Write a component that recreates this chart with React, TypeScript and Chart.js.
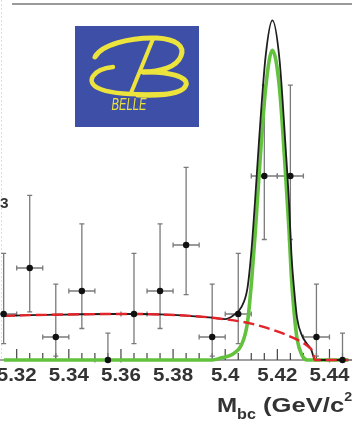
import React, { useEffect, useRef } from "react";
import { Chart, registerables } from "chart.js";

Chart.register(...registerables);

// Binned M_bc candidates (GeV/c^2) with asymmetric Poisson errors
const binCenters = [5.315, 5.325, 5.335, 5.345, 5.355, 5.365, 5.375, 5.385, 5.395, 5.405, 5.415, 5.425, 5.435, 5.445];
const counts = [2, 4, 1, 3, 0, 2, 3, 5, 1, 2, 8, 8, 1, 0];
const errHigh = [2.64, 3.16, 2.3, 2.92, 1.17, 2.64, 2.92, 3.38, 2.3, 2.64, 3.95, 3.95, 2.3, 1.17];
const errLow = [1.29, 1.91, 0.83, 1.63, 0, 1.29, 1.63, 2.16, 0.83, 1.29, 2.76, 2.76, 0.83, 0];
const binHalfWidth = 0.005;

// Background (ARGUS-like) curve
const bgMass = [5.3151, 5.325, 5.335, 5.345, 5.355, 5.365, 5.375, 5.385, 5.39, 5.395, 5.4, 5.405, 5.41, 5.415, 5.42, 5.425, 5.43, 5.432, 5.4335, 5.4345, 5.4472];
const bgVal = [1.92, 1.95, 1.97, 1.99, 2.0, 2.0, 1.98, 1.93, 1.89, 1.84, 1.77, 1.69, 1.58, 1.43, 1.24, 1.02, 0.74, 0.57, 0.38, 0, 0];

// Signal curve
const sigMass = [5.3151, 5.39, 5.395, 5.3987, 5.4015, 5.4032, 5.4062, 5.4085, 5.4101, 5.4115, 5.4129, 5.4155, 5.4181, 5.4208, 5.4232, 5.4245, 5.4254, 5.4265, 5.4276, 5.4295, 5.4314, 5.4472];
const sigVal = [0, 0, 0, 0.1, 0.18, 0.28, 0.65, 1.6, 3.4, 5.5, 7.9, 11.8, 13.47, 11.85, 8.0, 5.6, 3.6, 2.0, 0.9, 0.2, 0, 0];

// Total fit curve
const totMass = [5.3151, 5.325, 5.335, 5.345, 5.355, 5.365, 5.375, 5.385, 5.39, 5.395, 5.4, 5.4032, 5.4062, 5.4085, 5.4101, 5.4115, 5.4129, 5.4155, 5.4181, 5.4208, 5.4232, 5.4245, 5.4254, 5.4265, 5.4276, 5.4295, 5.4314, 5.433, 5.4345, 5.4472];
const totVal = [1.92, 1.95, 1.97, 1.99, 2.0, 2.0, 1.98, 1.93, 1.89, 1.84, 1.78, 1.95, 2.3, 3.1, 4.8, 7.0, 9.4, 13.2, 14.77, 13.1, 9.2, 6.8, 4.6, 3.0, 1.8, 1.05, 0.7, 0.45, 0, 0];

// Axis
const xMin = 5.31513;
const xMax = 5.44711;
const yMax = 15.48;
const majorTicks = [5.32, 5.34, 5.36, 5.38, 5.4, 5.42, 5.44];
const majorLabels = ["5.32", "5.34", "5.36", "5.38", "5.4", "5.42", "5.44"];
const minorStep = 0.005;
const sideLabel = "3";

const FONT = '"Liberation Sans", Arial, Helvetica, sans-serif';

function pairs(xs: number[], ys: number[]) {
  return xs.map((x, i) => ({ x, y: ys[i] }));
}

function stretched(ctx: CanvasRenderingContext2D, text: string, x: number, y: number, sx: number) {
  ctx.save();
  ctx.translate(x, y);
  ctx.scale(sx, 1);
  ctx.fillText(text, 0, 0);
  ctx.restore();
  return ctx.measureText(text).width * sx;
}

const framePlugin = {
  id: "frame",
  beforeDatasetsDraw(chart: any) {
    const { ctx, chartArea } = chart;
    const xs = chart.scales.x;
    const ys = chart.scales.y;
    const y0 = ys.getPixelForValue(0);
    ctx.save();

    // top frame line
    ctx.strokeStyle = "#9a9a9a";
    ctx.lineWidth = 2;
    ctx.beginPath();
    ctx.moveTo(12, chartArea.top);
    ctx.lineTo(chart.width, chartArea.top);
    ctx.stroke();

    // faint left border
    ctx.strokeStyle = "#dedede";
    ctx.lineWidth = 1;
    ctx.setLineDash([2, 2]);
    ctx.beginPath();
    ctx.moveTo(1.5, 0);
    ctx.lineTo(1.5, y0);
    ctx.stroke();
    ctx.setLineDash([]);

    // x axis line and inward ticks
    ctx.strokeStyle = "#444";
    ctx.lineWidth = 1.2;
    ctx.beginPath();
    ctx.moveTo(0, y0);
    ctx.lineTo(chart.width, y0);
    ctx.stroke();
    const n0 = Math.ceil(xMin / minorStep);
    const n1 = Math.floor(xMax / minorStep);
    for (let n = n0; n <= n1; n++) {
      const v = n * minorStep;
      const px = xs.getPixelForValue(v);
      const isMajor = majorTicks.some((m) => Math.abs(m - v) < 1e-6);
      ctx.beginPath();
      ctx.moveTo(px, y0);
      ctx.lineTo(px, y0 - (isMajor ? 11 : 7));
      ctx.stroke();
    }

    // error bars
    ctx.strokeStyle = "#7a7a7a";
    ctx.lineWidth = 1.3;
    binCenters.forEach((c, i) => {
      const px = xs.getPixelForValue(c);
      const py = ys.getPixelForValue(counts[i]);
      const top = ys.getPixelForValue(counts[i] + errHigh[i]);
      const bot = ys.getPixelForValue(counts[i] - errLow[i]);
      const left = xs.getPixelForValue(c - binHalfWidth);
      const right = xs.getPixelForValue(c + binHalfWidth);
      ctx.beginPath();
      ctx.moveTo(px, top);
      ctx.lineTo(px, bot);
      ctx.moveTo(px - 2.5, top);
      ctx.lineTo(px + 2.5, top);
      if (errLow[i] > 0) {
        ctx.moveTo(px - 2.5, bot);
        ctx.lineTo(px + 2.5, bot);
      }
      ctx.moveTo(left, py);
      ctx.lineTo(right, py);
      ctx.moveTo(left, py - 2.5);
      ctx.lineTo(left, py + 2.5);
      ctx.moveTo(right, py - 2.5);
      ctx.lineTo(right, py + 2.5);
      ctx.stroke();
    });
    ctx.restore();
  },
  afterDraw(chart: any) {
    const { ctx } = chart;
    const xs = chart.scales.x;
    ctx.save();

    // tick labels
    ctx.fillStyle = "#333";
    ctx.font = `bold 18px ${FONT}`;
    ctx.textBaseline = "alphabetic";
    majorTicks.forEach((v, i) => {
      const px = xs.getPixelForValue(v);
      const sx = 1.14;
      const w = ctx.measureText(majorLabels[i]).width * sx;
      stretched(ctx, majorLabels[i], px - w / 2, 381, sx);
    });

    // side label
    ctx.font = `bold 14px ${FONT}`;
    stretched(ctx, sideLabel, 0, 208, 1.1);

    // axis title
    let x = 217;
    ctx.font = `bold 21px ${FONT}`;
    x += stretched(ctx, "M", x, 412, 1.15);
    ctx.font = `bold 14px ${FONT}`;
    x += stretched(ctx, "bc", x, 419, 1.15);
    ctx.font = `bold 21px ${FONT}`;
    x += stretched(ctx, " (GeV/c", x, 412, 1.22);
    ctx.font = `bold 13px ${FONT}`;
    x += stretched(ctx, "2", x, 401, 1.1);
    ctx.font = `bold 21px ${FONT}`;
    stretched(ctx, ")", x, 412, 1.2);

    // experiment logo
    const L = 75, T = 26, W = 124, H = 101;
    ctx.fillStyle = "#3d4fa6";
    ctx.fillRect(L, T, W, H);
    ctx.strokeStyle = "#ece33c";
    ctx.lineCap = "round";
    ctx.lineJoin = "round";
    ctx.lineWidth = 5;
    // top stroke and upper bowl
    ctx.beginPath();
    ctx.moveTo(95, 57);
    ctx.bezierCurveTo(101, 45, 130, 37, 157, 38);
    ctx.bezierCurveTo(176, 39, 185, 46, 181, 56);
    ctx.bezierCurveTo(177, 67, 160, 72, 143, 72);
    ctx.stroke();
    // lower bowl
    ctx.beginPath();
    ctx.moveTo(143, 72);
    ctx.bezierCurveTo(168, 71, 189, 77, 186, 85);
    ctx.bezierCurveTo(183, 94, 160, 96, 138, 95);
    ctx.stroke();
    // big swoosh
    ctx.lineWidth = 4.5;
    ctx.beginPath();
    ctx.moveTo(113, 67);
    ctx.bezierCurveTo(93, 69, 85, 82, 98, 88);
    ctx.bezierCurveTo(112, 95, 140, 95, 166, 94);
    ctx.stroke();
    // vertical stroke
    ctx.lineWidth = 4;
    ctx.beginPath();
    ctx.moveTo(153, 39);
    ctx.lineTo(131, 93);
    ctx.stroke();
    // lettering
    ctx.fillStyle = "#ece33c";
    ctx.font = `italic 16px ${FONT}`;
    const tw = ctx.measureText("BELLE").width * 0.7;
    stretched(ctx, "BELLE", 129 - tw / 2, 110, 0.7);
    ctx.restore();
  },
};

export default function App() {
  const ref = useRef<HTMLCanvasElement>(null);
  useEffect(() => {
    document.body.style.margin = "0";
    const canvas = ref.current;
    if (!canvas) return;
    const chart = new Chart(canvas, {
      type: "line",
      data: {
        datasets: [
          {
            type: "scatter",
            data: pairs(binCenters, counts),
            pointRadius: 3.2,
            pointBackgroundColor: "#111",
            pointBorderWidth: 0,
            showLine: false,
            clip: false,
            order: 0,
          } as any,
          {
            data: pairs(bgMass, bgVal),
            borderColor: "#e3242b",
            borderWidth: 2.4,
            borderDash: [11, 5],
            pointRadius: 0,
            cubicInterpolationMode: "monotone",
            clip: false,
            order: 1,
          },
          {
            data: pairs(totMass, totVal),
            borderColor: "#1e1e1e",
            borderWidth: 1.8,
            pointRadius: 0,
            cubicInterpolationMode: "monotone",
            clip: false,
            order: 2,
          },
          {
            data: pairs(sigMass, sigVal),
            borderColor: "#62c23e",
            borderWidth: 3.6,
            pointRadius: 0,
            cubicInterpolationMode: "monotone",
            clip: false,
            order: 3,
          },
        ],
      },
      options: {
        responsive: false,
        animation: false,
        events: [],
        layout: { padding: { left: 0, right: 0, top: 4, bottom: 62 } },
        scales: {
          x: { type: "linear", min: xMin, max: xMax, display: false },
          y: { type: "linear", min: 0, max: yMax, display: false },
        },
        plugins: { legend: { display: false }, tooltip: { enabled: false } },
      },
      plugins: [framePlugin],
    });
    return () => chart.destroy();
  }, []);
  return (
    <div style={{ position: "absolute", left: 0, top: 0, width: 352, height: 422, background: "#fff" }}>
      <canvas ref={ref} width={352} height={422} style={{ display: "block", width: 352, height: 422 }} />
    </div>
  );
}
